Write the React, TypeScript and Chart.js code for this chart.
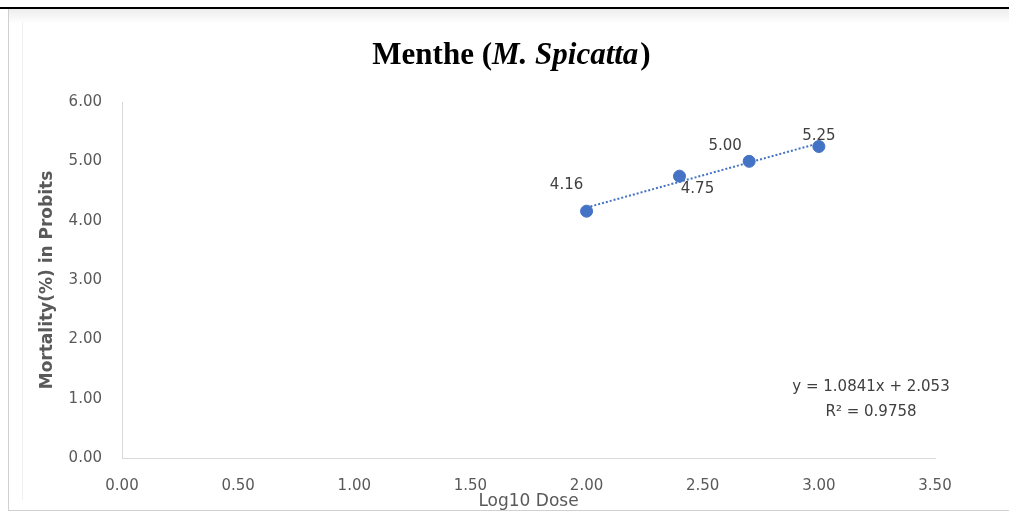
import { useEffect, useRef } from "react";
import { Chart, registerables } from "chart.js";

Chart.register(...registerables);

// Probit analysis: Log10 dose vs mortality (in probits)
const doses = [2.0, 2.4, 2.7, 3.0];
const probits = [4.16, 4.75, 5.0, 5.25];

// Linear trendline reported for the series
const slope = 1.0841;
const intercept = 2.053;
const rSquared = 0.9758;

const xTickValues = [0, 0.5, 1.0, 1.5, 2.0, 2.5, 3.0, 3.5];
const yTickValues = [0, 1, 2, 3, 4, 5, 6];

const titleMain = "Menthe (";
const titleItalic = "M. Spicatta";
const titleEnd = ")";
const xTitle = "Log10 Dose";
const yTitle = "Mortality(%) in Probits";

// Per-point data label nudges (dx, dy) so labels sit clear of the trendline
const labelNudges: [number, number][] = [
  [-20, -26],
  [18, 13],
  [-24, -15],
  [0, -10],
];

const SANS = '"DejaVu Sans", sans-serif';
const SERIF = '"Liberation Serif", "Times New Roman", serif';
const TEXT_GREY = "#595959";
const LABEL_GREY = "#404040";
const SERIES_BLUE = "#4472c4";
const AXIS_GREY = "#d9d9d9";

const decorPlugin = {
  id: "decor",
  beforeDraw(chart: any) {
    const { ctx, width, height } = chart;
    ctx.save();
    ctx.fillStyle = "#ffffff";
    ctx.fillRect(0, 0, width, height);
    // soft shadow under the top rule
    const g = ctx.createLinearGradient(0, 9, 0, 24);
    g.addColorStop(0, "rgba(0,0,0,0.07)");
    g.addColorStop(1, "rgba(0,0,0,0)");
    ctx.fillStyle = g;
    ctx.fillRect(9, 9, width - 9, 15);
    // frame of the chart object
    ctx.strokeStyle = "#d0d0d0";
    ctx.lineWidth = 1;
    ctx.beginPath();
    ctx.moveTo(8.5, 9);
    ctx.lineTo(8.5, 511);
    ctx.moveTo(8, 510.5);
    ctx.lineTo(width, 510.5);
    ctx.stroke();
    ctx.strokeStyle = "#f1f1f1";
    ctx.beginPath();
    ctx.moveTo(22.5, 22);
    ctx.lineTo(22.5, 500);
    ctx.stroke();
    // top rule
    ctx.fillStyle = "#000000";
    ctx.fillRect(0, 7, width, 2);
    ctx.restore();
  },
  afterDatasetsDraw(chart: any) {
    const { ctx } = chart;
    const meta = chart.getDatasetMeta(0);
    ctx.save();
    ctx.font = `15px ${SANS}`;
    ctx.fillStyle = LABEL_GREY;
    ctx.textAlign = "center";
    ctx.textBaseline = "middle";
    meta.data.forEach((pt: any, i: number) => {
      const [dx, dy] = labelNudges[i];
      ctx.fillText(probits[i].toFixed(2), pt.x + dx, pt.y + dy);
    });
    ctx.restore();
  },
  afterDraw(chart: any) {
    const { ctx, width, chartArea } = chart;
    ctx.save();
    // title with italic species name
    const fontReg = `bold 31px ${SERIF}`;
    const fontIt = `italic bold 31px ${SERIF}`;
    ctx.font = fontReg;
    const w1 = ctx.measureText(titleMain).width;
    const w3 = ctx.measureText(titleEnd).width;
    ctx.font = fontIt;
    const w2 = ctx.measureText(titleItalic).width;
    const gap = 2;
    const total = w1 + w2 + w3 + gap;
    const cx = width / 2 + 7;
    let x = cx - total / 2;
    const y = 64;
    ctx.fillStyle = "#000000";
    ctx.textBaseline = "alphabetic";
    ctx.textAlign = "left";
    ctx.font = fontReg;
    ctx.fillText(titleMain, x, y);
    x += w1;
    ctx.font = fontIt;
    ctx.fillText(titleItalic, x, y);
    x += w2 + gap;
    ctx.font = fontReg;
    ctx.fillText(titleEnd, x, y);
    ctx.restore();

    // trendline equation and R²
    ctx.save();
    ctx.font = `15px ${SANS}`;
    ctx.fillStyle = LABEL_GREY;
    ctx.textAlign = "center";
    ctx.textBaseline = "middle";
    const ex = chartArea.right - 64;
    const ey = chartArea.bottom - 71;
    ctx.fillText(`y = ${slope}x + ${intercept}`, ex, ey);
    ctx.fillText(`R² = ${rSquared}`, ex, ey + 25);
    ctx.restore();
  },
};

export default function App() {
  const canvasRef = useRef<HTMLCanvasElement | null>(null);

  useEffect(() => {
    const canvas = canvasRef.current;
    if (!canvas) return;

    const points = doses.map((x, i) => ({ x, y: probits[i] }));
    const xStart = doses[0];
    const xEnd = doses[doses.length - 1];
    const trend = [
      { x: xStart, y: slope * xStart + intercept },
      { x: xEnd, y: slope * xEnd + intercept },
    ];

    const tickFont = { family: SANS, size: 15 };

    const chart = new Chart(canvas, {
      type: "scatter",
      data: {
        datasets: [
          {
            label: "Mortality",
            data: points,
            backgroundColor: SERIES_BLUE,
            borderColor: SERIES_BLUE,
            pointRadius: 6,
            order: 0,
          },
          {
            type: "line",
            label: "Linear",
            data: trend,
            borderColor: SERIES_BLUE,
            borderWidth: 2,
            borderDash: [2, 2],
            pointRadius: 0,
            fill: false,
            order: 1,
          } as any,
        ],
      },
      options: {
        responsive: false,
        animation: false,
        layout: { padding: { top: 102, right: 74, left: 0, bottom: 0 } },
        plugins: {
          legend: { display: false },
          tooltip: { enabled: false },
          title: { display: false },
        },
        scales: {
          x: {
            type: "linear",
            min: 0,
            max: 3.5,
            afterBuildTicks: (s: any) => {
              s.ticks = xTickValues.map((v) => ({ value: v }));
            },
            afterFit: (s: any) => {
              s.height = 57;
            },
            ticks: {
              font: tickFont,
              color: TEXT_GREY,
              padding: 19,
              maxRotation: 0,
              autoSkip: false,
              callback: (v: any) => Number(v).toFixed(2),
            },
            grid: { display: true, drawOnChartArea: false, drawTicks: false },
            border: { display: true, color: AXIS_GREY, width: 1 },
            title: {
              display: true,
              text: xTitle,
              color: TEXT_GREY,
              font: { family: SANS, size: 17 },
              padding: { top: 0, bottom: 3 },
            },
          },
          y: {
            type: "linear",
            min: 0,
            max: 6,
            afterBuildTicks: (s: any) => {
              s.ticks = yTickValues.map((v) => ({ value: v }));
            },
            afterFit: (s: any) => {
              s.width = 122;
            },
            ticks: {
              font: tickFont,
              color: TEXT_GREY,
              padding: 20,
              autoSkip: false,
              callback: (v: any) => Number(v).toFixed(2),
            },
            grid: { display: true, drawOnChartArea: false, drawTicks: false },
            border: { display: true, color: AXIS_GREY, width: 1 },
            title: {
              display: true,
              text: yTitle,
              color: TEXT_GREY,
              font: { family: SANS, size: 17, weight: "bold" },
              padding: { top: 37, bottom: 0 },
            },
          },
        },
      },
      plugins: [decorPlugin],
    });

    return () => chart.destroy();
  }, []);

  return (
    <div style={{ position: "absolute", left: 0, top: 0, width: 1009, height: 515 }}>
      <canvas ref={canvasRef} width={1009} height={515} />
    </div>
  );
}
